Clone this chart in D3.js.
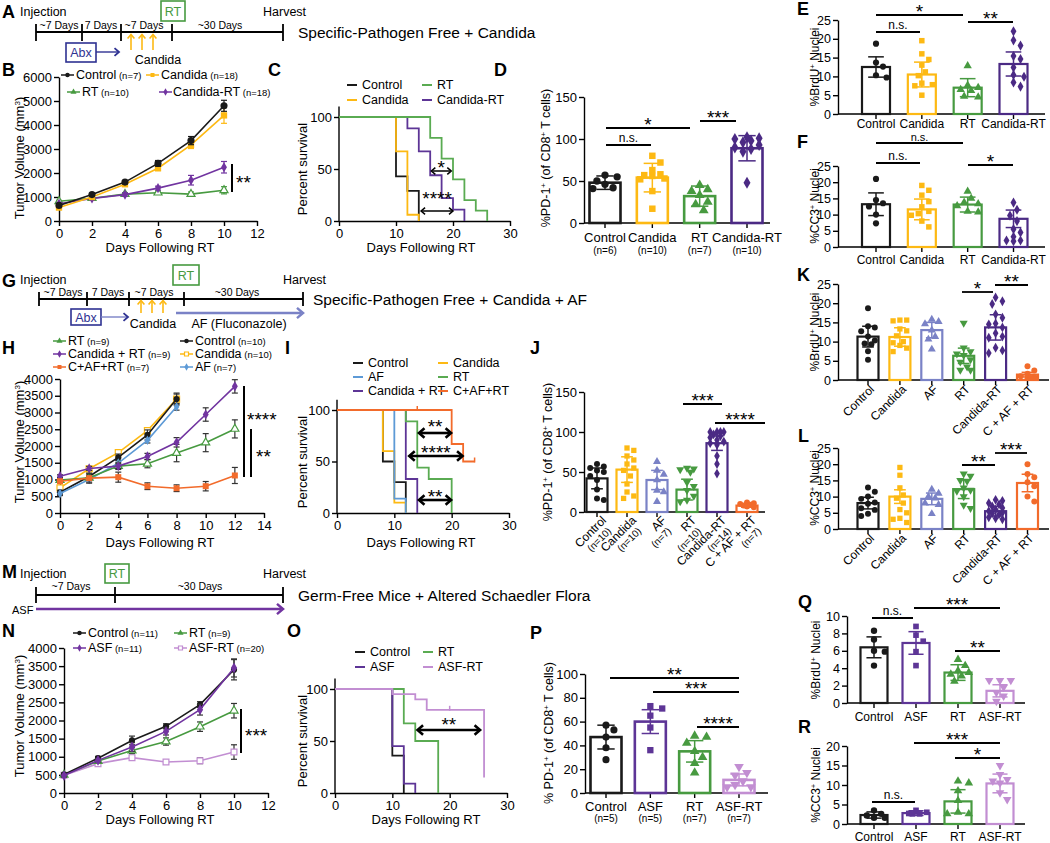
<!DOCTYPE html>
<html>
<head>
<meta charset="utf-8">
<script src="https://cdnjs.cloudflare.com/ajax/libs/d3/7.8.5/d3.min.js"></script>
<style>
html,body{margin:0;padding:0;background:#fff;}
svg text{font-family:"Liberation Sans",Arial,Helvetica,sans-serif;}
</style>
</head>
<body>
<svg id="fig" width="1050" height="843" xmlns="http://www.w3.org/2000/svg"></svg>
<script>
// ================= DATA =================
// Panel B - tumor growth
const daysB = [0, 2, 4, 6, 8, 10];
const bControl = [650, 1100, 1620, 2400, 3350, 4800];
const bControlErr = [40, 60, 70, 120, 170, 230];
const bCandida = [560, 1000, 1530, 2200, 3170, 4400];
const bCandidaErr = [40, 60, 70, 100, 150, 330];
const bRT = [820, 950, 1120, 1180, 1120, 1280];
const bRTErr = [40, 50, 60, 70, 90, 150];
const bCandidaRT = [720, 940, 1100, 1370, 1700, 2240];
const bCandidaRTErr = [40, 60, 70, 80, 200, 240];

// Panel C - survival
const cControlT = [0, 10, 12, 14], cControlS = [100, 43, 29, 0];
const cCandidaT = [0, 10, 12, 14], cCandidaS = [100, 67, 6, 0];
const cRTT = [0, 16, 18, 20, 22, 24, 26], cRTS = [100, 80, 60, 40, 20, 10, 0];
const cCandidaRTT = [0, 12, 14, 16, 18, 20, 22], cCandidaRTS = [100, 89, 67, 44, 22, 11, 0];

// Panel D - %PD-1+
const groupsD = ["Control", "Candida", "RT", "Candida-RT"];
const nD = ["(n=6)", "(n=10)", "(n=7)", "(n=10)"];
const meanD = [48, 54, 32, 89];
const sdD = [8, 17, 12, 15];
const ptsD_Control = [57, 55, 50, 46, 42, 41];
const ptsD_Candida = [80, 72, 63, 58, 57, 56, 53, 52, 38, 17];
const ptsD_RT = [45, 40, 38, 33, 25, 22, 15];
const ptsD_CandidaRT = [102, 101, 100, 98, 96, 93, 90, 88, 85, 48];

// Panel E - %BrdU+
const groupsE = ["Control", "Candida", "RT", "Candida-RT"];
const meanE = [12.5, 10.5, 7.0, 13.3];
const sdE = [2.7, 3.3, 2.4, 3.2];
const ptsE_Control = [18.7, 13.7, 12.6, 10.3, 9.7];
const ptsE_Candida = [19.5, 16.0, 14.5, 13.0, 11.2, 10.2, 8.2, 7.8, 7.5, 5.0];
const ptsE_RT = [12.8, 7.6, 7.0, 6.5, 6.2, 4.7, 4.5];
const ptsE_CandidaRT = [22.0, 19.6, 18.2, 15.4, 14.6, 12.4, 10.4, 9.9, 8.4, 7.3];

// Panel F - %CC3+
const meanF = [13.2, 11.6, 13.1, 8.7];
const sdF = [3.5, 3.2, 2.3, 2.7];
const ptsF_Control = [21.0, 14.5, 13.5, 12.5, 10.0, 7.3];
const ptsF_Candida = [19.0, 17.5, 16.0, 14.0, 12.4, 11.0, 10.3, 9.8, 8.0, 6.2];
const ptsF_RT = [17.2, 15.0, 13.8, 13.3, 12.7, 11.0, 10.8];
const ptsF_CandidaRT = [13.7, 11.5, 9.7, 8.0, 5.5, 4.5, 3.2, 2.0, 2.0, 1.8];

// Panel H - tumor growth with AF
const daysH_short = [0, 2, 4, 6, 8];
const daysH_long = [0, 2, 4, 6, 8, 10, 12];
const hRT = [980, 1050, 1400, 1470, 1790, 2100, 2510];
const hRTErr = [60, 80, 100, 120, 260, 270, 270];
const hCandidaRT = [1100, 1330, 1400, 1690, 2110, 2940, 3780];
const hCandidaRTErr = [40, 60, 70, 90, 140, 200, 200];
const hCAFRT = [950, 1040, 1070, 800, 740, 800, 1120];
const hCAFRTErr = [50, 150, 150, 100, 100, 140, 240];
const hControl = [620, 1090, 1660, 2330, 3400];
const hControlErr = [60, 80, 100, 150, 180];
const hCandida = [750, 1320, 1800, 2460, 3400];
const hCandidaErr = [60, 60, 80, 80, 150];
const hAF = [580, 1000, 1490, 2170, 3170];
const hAFErr = [60, 80, 80, 80, 100];

// Panel I - survival with AF
const iControlT = [0, 8, 10, 12], iControlS = [100, 50, 30, 0];
const iCandidaT = [0, 8, 10, 12], iCandidaS = [100, 60, 10, 0];
const iAFT = [0, 10, 12], iAFS = [100, 14, 0];
const iRTT = [0, 12, 14, 16, 20], iRTS = [100, 89, 44, 33, 0];
const iCandidaRTT = [0, 12, 14], iCandidaRTS = [100, 33, 0];
const iCAFRTT = [0, 20, 22, 24], iCAFRTS = [100, 67, 50, 50];

// Panel J - %PD-1+
const groupsJ = ["Control", "Candida", "AF", "RT", "Candida-RT", "C + AF + RT"];
const nJ = ["(n=10)", "(n=10)", "(n=7)", "(n=10)", "(n=14)", "(n=7)"];
const meanJ = [42, 53, 40, 28, 86, 8];
const sdJ = [13, 16, 12, 13, 9, 2];
const ptsJ_Control = [60, 57, 55, 52, 50, 45, 40, 28, 17, 15];
const ptsJ_Candida = [80, 77, 70, 65, 60, 55, 52, 45, 35, 25, 20, 17];
const ptsJ_AF = [63, 52, 47, 40, 27, 25, 13];
const ptsJ_RT = [55, 54, 53, 50, 37, 32, 27, 20, 15, 13];
const ptsJ_CandidaRT = [100, 100, 100, 100, 97, 95, 93, 90, 88, 86, 84, 70, 60, 48];
const ptsJ_CAFRT = [12, 11, 10, 9, 8, 7, 6];

// Panel K - %BrdU+
const meanK = [11.3, 11.2, 13.0, 6.3, 13.7, 1.4];
const sdK = [2.7, 2.4, 2.0, 2.0, 3.3, 0.6];
const ptsK_Control = [18.7, 14.0, 13.7, 12.7, 11.3, 10.3, 9.5, 9.3, 7.5, 5.3];
const ptsK_Candida = [15.6, 15.6, 15.4, 13.3, 12.8, 11.5, 10.0, 9.7, 9.0, 8.3, 7.4];
const ptsK_AF = [15.8, 15.2, 14.6, 13.0, 11.3, 10.6, 8.0];
const ptsK_RT = [14.8, 8.4, 7.4, 6.8, 6.4, 5.3, 4.7, 3.4, 2.6, 2.6];
const ptsK_CandidaRT = [21.5, 20.5, 19.8, 17.1, 16.2, 14.7, 14.5, 13.7, 12.2, 11.3, 11.0, 8.4, 7.7, 7.0];
const ptsK_CAFRT = [3.6, 2.5, 1.6, 1.0, 0.7, 0.5, 0.5];

// Panel L - %CC3+
const meanL = [8.0, 10.0, 9.3, 12.3, 5.5, 14.2];
const sdL = [1.8, 2.1, 1.8, 2.9, 1.5, 2.7];
const ptsL_Control = [12.8, 11.5, 10.0, 9.3, 8.2, 7.8, 6.4, 5.9, 4.7, 4.0];
const ptsL_Candida = [19.0, 16.6, 12.7, 10.5, 9.5, 8.0, 6.0, 5.0, 3.3, 3.0, 2.0];
const ptsL_AF = [12.2, 11.0, 10.0, 9.5, 8.0, 7.5, 4.7];
const ptsL_RT = [17.0, 16.3, 15.0, 14.8, 12.7, 12.0, 11.7, 10.0, 7.4, 6.4];
const ptsL_CandidaRT = [9.0, 8.7, 8.0, 7.6, 7.0, 6.5, 6.0, 5.5, 5.0, 4.8, 4.5, 3.6, 3.3, 3.0];
const ptsL_CAFRT = [20.0, 17.0, 16.0, 14.4, 13.2, 10.0, 8.5];

// Panel N - tumor growth germ-free
const daysN = [0, 2, 4, 6, 8, 10];
const nControl = [510, 960, 1450, 1840, 2440, 3400];
const nControlErr = [40, 50, 120, 70, 80, 280];
const nRT = [500, 880, 1170, 1420, 1830, 2270];
const nRTErr = [40, 60, 80, 100, 130, 200];
const nASF = [480, 900, 1270, 1700, 2300, 3450];
const nASFErr = [40, 50, 120, 100, 150, 250];
const nASFRT = [490, 810, 975, 855, 890, 1130];
const nASFRTErr = [40, 50, 50, 50, 80, 200];

// Panel O - survival germ-free
const oControlT = [0, 10, 12], oControlS = [100, 36, 0];
const oASFT = [0, 10, 12, 14], oASFS = [100, 45, 9, 0];
const oRTT = [0, 12, 14, 18], oRTS = [100, 67, 50, 0];
const oASFRTT = [0, 10, 14, 16, 26], oASFRTS = [100, 95, 90, 80, 15];

// Panel P - %PD-1+
const groupsP = ["Control", "ASF", "RT", "ASF-RT"];
const nP = ["(n=5)", "(n=5)", "(n=7)", "(n=7)"];
const meanP = [47, 60, 35, 11];
const sdP = [10, 10, 9, 5];
const ptsP_Control = [57, 53, 47, 38, 28];
const ptsP_ASF = [73, 71, 65, 55, 36];
const ptsP_RT = [48, 47, 42, 35, 30, 25, 17];
const ptsP_ASFRT = [22, 17, 15, 10, 7, 5, 5];

// Panel Q - %BrdU+
const meanQ = [6.4, 6.9, 3.5, 1.4];
const sdQ = [1.2, 1.3, 0.9, 0.7];
const ptsQ_Control = [8.3, 7.3, 6.0, 5.9, 4.3];
const ptsQ_ASF = [8.8, 7.8, 7.1, 5.9, 4.3];
const ptsQ_RT = [5.0, 4.3, 3.7, 3.5, 3.3, 3.1, 2.5];
const ptsQ_ASFRT = [2.6, 2.6, 2.6, 1.8, 1.2, 0.8, 0.2];

// Panel R - %CC3+
const meanR = [2.3, 2.8, 5.8, 10.4];
const sdR = [0.8, 0.6, 3.0, 2.4];
const ptsR_Control = [3.5, 2.6, 2.2, 1.6, 1.6];
const ptsR_ASF = [3.5, 3.0, 2.7, 2.6, 2.6];
const ptsR_RT = [11.0, 10.5, 8.5, 6.0, 3.0, 2.6, 2.6];
const ptsR_ASFRT = [15.0, 12.7, 11.4, 11.0, 10.5, 8.0, 6.3];

// ================= STYLE =================
const COL = {
  black: "#1a1a1a", yellow: "#fdb913", green: "#479a40", greenS: "#5aab52",
  purpleDark: "#4b2a84", purple: "#7134a0", purpleS: "#5d3596",
  af: "#7a82c6", afLine: "#5d9ad6", orange: "#f26b2b", lilac: "#c28ed2", blue: "#2e3192"
};
const svg = d3.select("#fig");
const SHAPES = { circle: d3.symbolCircle, square: d3.symbolSquare, triangle: d3.symbolTriangle, diamond: d3.symbolDiamond, star: d3.symbolStar };
const fmtInt = d3.format("d");

function txt(g, x, y, s, o = {}) {
  const t = g.append("text").attr("x", x).attr("y", y).text(s)
    .attr("font-size", o.fs || 13).attr("fill", o.fill || "#000")
    .attr("text-anchor", o.anchor || "start");
  if (o.bold) t.attr("font-weight", "bold");
  return t;
}
function rich(g, x, y, parts, o = {}) {
  const t = g.append("text").attr("x", x).attr("y", y).attr("font-size", o.fs || 13)
    .attr("text-anchor", o.anchor || "middle").attr("fill", o.fill || "#000");
  if (o.rotate) t.attr("transform", `rotate(${o.rotate},${x},${y})`);
  parts.forEach(p => {
    const ts = t.append("tspan").text(p[0]);
    if (p[1] === "sup") ts.attr("baseline-shift", "super").attr("font-size", (o.fs || 13) * 0.62);
    if (p[1] === "small") ts.attr("font-size", o.fsSmall || 9.5);
  });
  return t;
}
function marker(g, x, y, shape, size, color, open, rot) {
  g.append("path").attr("d", d3.symbol().type(SHAPES[shape]).size(size)())
    .attr("transform", `translate(${x},${y})` + (rot ? ` rotate(${rot})` : ""))
    .attr("fill", open ? "#fff" : color).attr("stroke", color).attr("stroke-width", open ? 1.2 : 0);
}
function styleAxis(a, fs) {
  a.attr("font-size", fs).attr("font-family", null);
  a.select(".domain").attr("stroke", "#000").attr("stroke-width", 1.4);
  a.selectAll(".tick line").attr("stroke", "#000").attr("stroke-width", 1.4);
  a.selectAll(".tick text").attr("fill", "#000");
}
function chevron(g, x, y, ang, color, size, sw) {
  g.append("path").attr("d", `M${-size},${-size * 0.85} L0,0 L${-size},${size * 0.85}`)
    .attr("transform", `translate(${x},${y}) rotate(${ang})`)
    .attr("fill", "none").attr("stroke", color).attr("stroke-width", sw);
}
function hline(g, x1, x2, y, color, sw) {
  g.append("line").attr("x1", x1).attr("x2", x2).attr("y1", y).attr("y2", y).attr("stroke", color).attr("stroke-width", sw);
}
function vline(g, x, y1, y2, color, sw) {
  g.append("line").attr("x1", x).attr("x2", x).attr("y1", y1).attr("y2", y2).attr("stroke", color).attr("stroke-width", sw);
}
const STAR_FS = 19;
function stars(g, cx, cy, s, anchor) {
  txt(g, cx, cy + 0.55 * STAR_FS, s, { fs: STAR_FS, anchor: anchor || "middle" });
}
function sigBar(g, x1, x2, y, label, nsY, nsFs) {
  hline(g, x1, x2, y, "#000", 1.8);
  if (label === "n.s.") txt(g, (x1 + x2) / 2, nsY || (y - 3), "n.s.", { fs: nsFs || 12, anchor: "middle" });
  else stars(g, (x1 + x2) / 2, y - 7, label);
}
function panelLetter(x, y, s) { txt(svg, x, y, s, { fs: 18, bold: true }); }

// ================= TIMELINES =================
function rtBox(g, x, y, w, h) {
  g.append("rect").attr("x", x).attr("y", y).attr("width", w).attr("height", h)
    .attr("fill", "none").attr("stroke", COL.green).attr("stroke-width", 1.6);
  txt(g, x + w / 2, y + h - 5, "RT", { fs: 12.5, anchor: "middle", fill: COL.green });
}
function timelineA() {
  const g = svg.append("g");
  panelLetter(2, 18, "A");
  txt(g, 20, 16, "Injection", { fs: 12.5 });
  rtBox(g, 161, 1, 24, 20);
  txt(g, 263, 16, "Harvest", { fs: 12.5 });
  hline(g, 36, 283, 32, "#000", 1.8);
  [36, 82, 121, 172, 283].forEach(x => vline(g, x, 24, 41, "#000", 1.8));
  [[59, "~7 Days"], [101, "7 Days"], [144, "~7 Days"], [220, "~30 Days"]].forEach(d => txt(g, d[0], 29, d[1], { fs: 10.5, anchor: "middle" }));
  g.append("rect").attr("x", 66).attr("y", 43).attr("width", 30).attr("height", 19).attr("fill", "none").attr("stroke", COL.blue).attr("stroke-width", 1.6);
  txt(g, 81, 57, "Abx", { fs: 12.5, anchor: "middle", fill: COL.blue });
  hline(g, 96, 118, 52, COL.blue, 1.4); chevron(g, 119, 52, 0, COL.blue, 4.5, 1.8);
  [131, 142, 153].forEach(x => { vline(g, x, 50, 35, COL.yellow, 1.6); chevron(g, x, 34.5, -90, COL.yellow, 4, 1.6); });
  txt(g, 158, 64, "Candida", { fs: 12.5, anchor: "middle" });
  txt(g, 298, 38, "Specific-Pathogen Free + Candida", { fs: 15.5 });
}
function timelineG() {
  const g = svg.append("g");
  panelLetter(2, 287, "G");
  txt(g, 20, 284, "Injection", { fs: 12.5 });
  rtBox(g, 173, 265, 26, 20);
  txt(g, 283, 284, "Harvest", { fs: 12.5 });
  hline(g, 39, 303, 299, "#000", 1.8);
  [39, 87, 129, 184, 303].forEach(x => vline(g, x, 292, 306, "#000", 1.8));
  [[63, "~7 Days"], [108, "7 Days"], [154, "~7 Days"], [237, "~30 Days"]].forEach(d => txt(g, d[0], 296, d[1], { fs: 10.5, anchor: "middle" }));
  g.append("rect").attr("x", 71).attr("y", 309).attr("width", 30).attr("height", 16).attr("fill", "none").attr("stroke", COL.blue).attr("stroke-width", 1.6);
  txt(g, 86, 322, "Abx", { fs: 12.5, anchor: "middle", fill: COL.blue });
  hline(g, 101, 127, 317, COL.af, 1.4); chevron(g, 128, 317, 0, COL.blue, 4.5, 1.8);
  [141, 152, 163].forEach(x => { vline(g, x, 313, 301, COL.yellow, 1.6); chevron(g, x, 300.5, -90, COL.yellow, 4, 1.6); });
  txt(g, 153, 328, "Candida", { fs: 12.5, anchor: "middle" });
  hline(g, 176, 301, 313, COL.af, 2.5); chevron(g, 303, 313, 0, COL.af, 6, 2.5);
  txt(g, 239, 328, "AF (Fluconazole)", { fs: 12.5, anchor: "middle" });
  txt(g, 313, 305, "Specific-Pathogen Free + Candida + AF", { fs: 15.5 });
}
function timelineM() {
  const g = svg.append("g");
  panelLetter(2, 578, "M");
  txt(g, 20, 578, "Injection", { fs: 12.5 });
  rtBox(g, 105, 564, 24, 19);
  txt(g, 263, 578, "Harvest", { fs: 12.5 });
  hline(g, 36, 283, 595, "#000", 1.8);
  [36, 115, 283].forEach(x => vline(g, x, 587, 603, "#000", 1.8));
  txt(g, 71, 590, "~7 Days", { fs: 10.5, anchor: "middle" });
  txt(g, 200, 590, "~30 Days", { fs: 10.5, anchor: "middle" });
  txt(g, 12, 614, "ASF", { fs: 11 });
  hline(g, 36, 281, 609, COL.purple, 2.5); chevron(g, 283, 609, 0, COL.purple, 6, 2.5);
  txt(g, 298, 601, "Germ-Free Mice + Altered Schaedler Flora", { fs: 15.5 });
}

// ================= GROWTH CHARTS =================
function growthChart(o) {
  const g = svg.append("g");
  const x = d3.scaleLinear().domain([0, o.xMax]).range([o.x0, o.x1]);
  const y = d3.scaleLinear().domain([0, o.yMax]).range([o.y0, o.y1]);
  const ax = g.append("g").attr("transform", `translate(0,${o.y0})`)
    .call(d3.axisBottom(x).tickValues(o.xTicks).tickFormat(fmtInt).tickSize(5).tickSizeOuter(0).tickPadding(3));
  const ay = g.append("g").attr("transform", `translate(${o.x0},0)`)
    .call(d3.axisLeft(y).tickValues(o.yTicks).tickFormat(fmtInt).tickSize(5).tickSizeOuter(0).tickPadding(2));
  styleAxis(ax, 13); styleAxis(ay, 13);
  o.series.forEach(s => {
    const pts = s.x.map((d, i) => ({ x: d, y: s.y[i], e: s.e[i] }));
    const ec = o.errColor || s.color;
    pts.forEach(p => {
      const cx = x(p.x);
      vline(g, cx, y(p.y - p.e), y(p.y + p.e), ec, 1.2);
      hline(g, cx - 3, cx + 3, y(p.y - p.e), ec, 1.2);
      hline(g, cx - 3, cx + 3, y(p.y + p.e), ec, 1.2);
    });
    g.append("path").datum(pts).attr("fill", "none").attr("stroke", s.color).attr("stroke-width", 1.6)
      .attr("d", d3.line().x(d => x(d.x)).y(d => y(d.y)));
    pts.forEach(p => marker(g, x(p.x), y(p.y), s.shape, s.size || 30, s.color, s.open, s.rot));
  });
  o.legend.forEach(l => {
    hline(g, l.sx, l.sx + 13, l.y - 4, l.color, 1.5);
    marker(g, l.sx + 6.5, l.y - 4, l.shape, 16, l.color, l.open, l.rot);
    rich(g, l.tx, l.y, [[l.label], [" " + l.n, "small"]], { fs: 12.5, anchor: "start" });
  });
  txt(g, o.xtX, o.xtY, "Days Following RT", { fs: 13, anchor: "middle" });
  rich(g, o.ytX, o.ytY, [["Tumor Volume (mm"], ["3", "sup"], [")"]], { fs: 13, rotate: -90 });
  return { g, x, y };
}

// ================= SURVIVAL CHARTS =================
function survChart(o) {
  const g = svg.append("g");
  const x = d3.scaleLinear().domain([0, 30]).range([o.x0, o.x1]);
  const y = d3.scaleLinear().domain([0, 100]).range([o.y0, o.y100]);
  const yTop = y(110);
  const ax = g.append("g").attr("transform", `translate(0,${o.y0})`)
    .call(d3.axisBottom(x).tickValues([0, 10, 20, 30]).tickSize(5).tickSizeOuter(0).tickPadding(3));
  const ay = g.append("g").attr("transform", `translate(${o.x0},0)`)
    .call(d3.axisLeft(y).tickValues([0, 50, 100]).tickSize(5).tickSizeOuter(0).tickPadding(2));
  styleAxis(ax, 13); styleAxis(ay, 13);
  ay.select(".domain").attr("d", `M0,${o.y0}V${yTop}`);
  o.series.forEach(s => {
    const pts = s.t.map((t, i) => [x(t), y(s.s[i])]);
    g.append("path").attr("d", d3.line().curve(d3.curveStepAfter)(pts))
      .attr("fill", "none").attr("stroke", s.color).attr("stroke-width", 1.8);
    (s.censor || []).forEach(c => vline(g, x(c[0]), y(c[1]) - 4, y(c[1]) + 1, s.color, 1.5));
  });
  o.arrows.forEach(a => {
    hline(g, x(a.t1) + 1, x(a.t2) - 1, a.y, "#000", a.sw);
    chevron(g, x(a.t2), a.y, 0, "#000", a.hs, a.sw);
    chevron(g, x(a.t1), a.y, 180, "#000", a.hs, a.sw);
    stars(g, (x(a.t1) + x(a.t2)) / 2, a.ty, a.label);
  });
  o.legend.forEach(l => {
    hline(g, l.sx, l.sx + 10, l.y - 4, l.color, 2);
    txt(g, l.sx + 15, l.y, l.label, { fs: 12.5 });
  });
  txt(g, o.xtX, o.xtY, "Days Following RT", { fs: 13, anchor: "middle" });
  txt(g, o.ytX, o.ytY, "Percent survival", { fs: 13, anchor: "middle" }).attr("transform", `rotate(-90,${o.ytX},${o.ytY})`);
  return { g, x, y };
}

// ================= BAR CHARTS =================
function swarm(vals, y, r, maxOff) {
  const placed = [];
  vals.slice().sort((a, b) => b - a).forEach(v => {
    const py = y(v);
    let best = 0, bestD = -1;
    for (let k = 0; k < 30; k++) {
      const off = k === 0 ? 0 : (k % 2 ? 1 : -1) * Math.ceil(k / 2) * r * 0.95;
      if (Math.abs(off) > maxOff) break;
      const dmin = placed.length ? d3.min(placed, q => Math.hypot(q.x - off, q.y - py)) : 99;
      if (dmin >= 2 * r) { best = off; bestD = 99; break; }
      if (dmin > bestD) { bestD = dmin; best = off; }
    }
    placed.push({ x: best, y: py });
  });
  return placed;
}
function barChart(o) {
  const g = svg.append("g");
  const x = d3.scalePoint().domain(o.groups).range([o.c0, o.c1]);
  const y = d3.scaleLinear().domain([0, o.yMax]).range([o.y0, o.y1]);
  const ay = g.append("g").attr("transform", `translate(${o.x0},0)`)
    .call(d3.axisLeft(y).tickValues(o.yTicks).tickFormat(fmtInt).tickSize(5).tickSizeOuter(0).tickPadding(2));
  styleAxis(ay, o.fs || 12.5);
  hline(g, o.x0, o.xEnd, o.y0, "#000", 1.4);
  o.groups.forEach((gr, i) => {
    const cx = x(gr), col = o.colors[i], bw = o.bw, m = o.means[i], sd = o.sds[i];
    vline(g, cx, o.y0, o.y0 + 5, "#000", 1.4);
    g.append("rect").attr("x", cx - bw / 2).attr("y", y(m)).attr("width", bw).attr("height", o.y0 - y(m))
      .attr("fill", "#fff").attr("stroke", col).attr("stroke-width", o.sw || 2.2);
    const cap = bw * 0.28;
    vline(g, cx, y(m - sd), y(m + sd), col, 1.5);
    hline(g, cx - cap, cx + cap, y(m - sd), col, 1.5);
    hline(g, cx - cap, cx + cap, y(m + sd), col, 1.5);
    const r = Math.sqrt(o.msize / Math.PI) + 0.6;
    swarm(o.points[i], y, r, bw / 2 - 1).forEach(p =>
      marker(g, cx + p.x, p.y, o.shapes[i], o.msize, col, false, o.rots ? o.rots[i] : 0));
  });
  (o.sig || []).forEach(s => sigBar(g, s[0], s[1], s[2], s[3], s[4], s[5]));
  return { g, x, y };
}
function flatLabels(g, x, labels, y, fs, ns, yn) {
  labels.forEach((l, i) => {
    const cx = x(x.domain()[i]);
    txt(g, cx, y, l, { fs: fs, anchor: "middle" });
    if (ns) txt(g, cx, yn, ns[i], { fs: 10, anchor: "middle" });
  });
}
function rotLabels(g, x, labels, ns, y0, dx, dy, fs) {
  labels.forEach((l, i) => {
    const cx = x(x.domain()[i]);
    g.append("text").attr("transform", `translate(${cx + dx},${y0 + dy}) rotate(-45)`)
      .attr("text-anchor", "end").attr("font-size", fs).text(l);
    if (ns) g.append("text").attr("transform", `translate(${cx + dx},${y0 + dy}) rotate(-45)`)
      .attr("text-anchor", "end").attr("font-size", 10).attr("x", -4).attr("y", 11).text(ns[i]);
  });
}
function yTitle(g, x, y, parts, fs) { rich(g, x, y, parts, { fs: fs, rotate: -90 }); }

// ================= DRAW =================
timelineA(); timelineG(); timelineM();

// ---- B
panelLetter(2, 76, "B");
(function () {
  const c = growthChart({
    x0: 59, x1: 257, y0: 221, y1: 77, xMax: 12, yMax: 6000,
    xTicks: d3.range(0, 13, 2), yTicks: d3.range(0, 6001, 1000),
    series: [
      { x: daysB, y: bRT, e: bRTErr, color: COL.green, shape: "triangle", open: true, size: 28 },
      { x: daysB, y: bCandidaRT, e: bCandidaRTErr, color: COL.purple, shape: "diamond", size: 30 },
      { x: daysB, y: bCandida, e: bCandidaErr, color: COL.yellow, shape: "square", size: 40 },
      { x: daysB, y: bControl, e: bControlErr, color: COL.black, shape: "circle", size: 40 }
    ],
    legend: [
      { sx: 61, tx: 76, y: 79, label: "Control", n: "(n=7)", color: COL.black, shape: "circle" },
      { sx: 146, tx: 161, y: 79, label: "Candida", n: "(n=18)", color: COL.yellow, shape: "square" },
      { sx: 67, tx: 82, y: 96, label: "RT", n: "(n=10)", color: COL.green, shape: "triangle" },
      { sx: 159, tx: 173, y: 96, label: "Candida-RT", n: "(n=18)", color: COL.purple, shape: "diamond" }
    ],
    xtX: 160, xtY: 252, ytX: 24, ytY: 158
  });
  vline(c.g, 232, 164, 192, "#000", 2);
  stars(c.g, 236, 179, "**", "start");
})();

// ---- C
panelLetter(268, 76, "C");
survChart({
  x0: 339, x1: 510, y0: 221, y100: 117,
  series: [
    { t: cControlT, s: cControlS, color: COL.black },
    { t: cCandidaT, s: cCandidaS, color: COL.yellow },
    { t: cCandidaRTT, s: cCandidaRTS, color: COL.purpleS },
    { t: cRTT, s: cRTS, color: COL.greenS }
  ],
  arrows: [
    { t1: 16.2, t2: 19.7, y: 171, ty: 164, label: "*", sw: 1.5, hs: 4 },
    { t1: 14.4, t2: 20.0, y: 211, ty: 195, label: "****", sw: 1.5, hs: 4 }
  ],
  legend: [
    { sx: 347, y: 89, label: "Control", color: COL.black },
    { sx: 422, y: 89, label: "RT", color: COL.greenS },
    { sx: 347, y: 104, label: "Candida", color: COL.yellow },
    { sx: 422, y: 104, label: "Candida-RT", color: COL.purpleS }
  ],
  xtX: 421, xtY: 252, ytX: 307, ytY: 169
});

// ---- D
panelLetter(494, 76, "D");
(function () {
  const c = barChart({
    groups: groupsD, x0: 584, xEnd: 770, c0: 605, c1: 747, bw: 31, sw: 2.6,
    y0: 223, y1: 97, yMax: 150, yTicks: [0, 50, 100, 150], fs: 13,
    means: meanD, sds: sdD, colors: [COL.black, COL.yellow, COL.green, COL.purpleDark],
    shapes: ["circle", "square", "triangle", "diamond"], msize: 42,
    points: [ptsD_Control, ptsD_Candida, ptsD_RT, ptsD_CandidaRT],
    sig: [[606, 651, 145, "n.s."], [606, 690, 128, "*"], [700, 736, 121, "***"]]
  });
  flatLabels(c.g, c.x, groupsD, 242, 13, nD, 254);
  yTitle(c.g, 550, 158, [["%PD-1"], ["+", "sup"], [" (of CD8"], ["+", "sup"], [" T cells)"]], 12.5);
})();

// ---- E
panelLetter(797, 15, "E");
(function () {
  const c = barChart({
    groups: groupsE, x0: 838, xEnd: 1045, c0: 876, c1: 1013.5, bw: 28,
    y0: 114, y1: 20, yMax: 25, yTicks: [0, 5, 10, 15, 20, 25],
    means: meanE, sds: sdE, colors: [COL.black, COL.yellow, COL.green, COL.purpleDark],
    shapes: ["circle", "square", "triangle", "diamond"], msize: 30,
    points: [ptsE_Control, ptsE_Candida, ptsE_RT, ptsE_CandidaRT],
    sig: [[876, 920, 32, "n.s."], [876, 963, 15, "*"], [968, 1013, 22, "**"]]
  });
  flatLabels(c.g, c.x, groupsE, 128, 12);
  yTitle(c.g, 819, 67, [["%BrdU"], ["+", "sup"], [" Nuclei"]], 12);
})();

// ---- F
panelLetter(797, 148, "F");
(function () {
  const c = barChart({
    groups: groupsE, x0: 838, xEnd: 1045, c0: 876, c1: 1013.5, bw: 28,
    y0: 247, y1: 166, yMax: 25, yTicks: [0, 5, 10, 15, 20, 25],
    means: meanF, sds: sdF, colors: [COL.black, COL.yellow, COL.green, COL.purpleDark],
    shapes: ["circle", "square", "triangle", "diamond"], msize: 30,
    points: [ptsF_Control, ptsF_Candida, ptsF_RT, ptsF_CandidaRT],
    sig: [[876, 963, 143, "n.s.", 141, 11], [876, 920, 163, "n.s."], [968, 1013, 165, "*"]]
  });
  flatLabels(c.g, c.x, groupsE, 264, 12);
  yTitle(c.g, 819, 206, [["%CC3"], ["+", "sup"], [" Nuclei"]], 12);
})();

// ---- H
panelLetter(2, 354, "H");
(function () {
  const c = growthChart({
    x0: 60, x1: 264, y0: 513, y1: 379, xMax: 14, yMax: 4000,
    xTicks: d3.range(0, 15, 2), yTicks: d3.range(0, 4001, 500), errColor: "#333",
    series: [
      { x: daysH_short, y: hCandida, e: hCandidaErr, color: COL.yellow, shape: "square", open: true, size: 36 },
      { x: daysH_short, y: hControl, e: hControlErr, color: COL.black, shape: "circle", size: 30 },
      { x: daysH_short, y: hAF, e: hAFErr, color: COL.afLine, shape: "diamond", size: 26 },
      { x: daysH_long, y: hRT, e: hRTErr, color: COL.green, shape: "triangle", open: true, size: 28 },
      { x: daysH_long, y: hCandidaRT, e: hCandidaRTErr, color: COL.purple, shape: "diamond", size: 30 },
      { x: daysH_long, y: hCAFRT, e: hCAFRTErr, color: COL.orange, shape: "square", size: 36 }
    ],
    legend: [
      { sx: 53, tx: 68, y: 345, label: "RT", n: "(n=9)", color: COL.green, shape: "triangle" },
      { sx: 53, tx: 68, y: 358, label: "Candida + RT", n: "(n=9)", color: COL.purple, shape: "diamond" },
      { sx: 53, tx: 68, y: 371, label: "C+AF+RT", n: "(n=7)", color: COL.orange, shape: "square" },
      { sx: 180, tx: 195, y: 345, label: "Control", n: "(n=10)", color: COL.black, shape: "circle" },
      { sx: 180, tx: 195, y: 358, label: "Candida", n: "(n=10)", color: COL.yellow, shape: "square", open: true },
      { sx: 180, tx: 195, y: 371, label: "AF", n: "(n=7)", color: COL.afLine, shape: "diamond" }
    ],
    xtX: 160, xtY: 547, ytX: 24, ytY: 442
  });
  vline(c.g, 244, 386, 477, "#000", 2);
  vline(c.g, 251, 429, 477, "#000", 2);
  stars(c.g, 247, 416, "****", "start");
  stars(c.g, 256, 453, "**", "start");
})();

// ---- I
panelLetter(285, 354, "I");
survChart({
  x0: 337, x1: 509, y0: 513, y100: 410,
  series: [
    { t: iControlT, s: iControlS, color: COL.black },
    { t: iCandidaT, s: iCandidaS, color: COL.yellow },
    { t: iAFT, s: iAFS, color: COL.afLine },
    { t: iCandidaRTT, s: iCandidaRTS, color: COL.purpleS },
    { t: iRTT, s: iRTS, color: COL.greenS },
    { t: iCAFRTT, s: iCAFRTS, color: COL.orange, censor: [[14, 100], [24, 50]] }
  ],
  arrows: [
    { t1: 14.3, t2: 19.9, y: 433, ty: 423, label: "**", sw: 2.6, hs: 5.5 },
    { t1: 12.6, t2: 21.9, y: 456, ty: 449, label: "****", sw: 2.6, hs: 5.5 },
    { t1: 14.3, t2: 19.9, y: 500, ty: 493, label: "**", sw: 2.6, hs: 5.5 }
  ],
  legend: [
    { sx: 353, y: 367, label: "Control", color: COL.black },
    { sx: 353, y: 381, label: "AF", color: COL.afLine },
    { sx: 353, y: 395, label: "Candida + RT", color: COL.purpleS },
    { sx: 438, y: 367, label: "Candida", color: COL.yellow },
    { sx: 438, y: 381, label: "RT", color: COL.greenS },
    { sx: 438, y: 395, label: "C+AF+RT", color: COL.orange }
  ],
  xtX: 421, xtY: 547, ytX: 307, ytY: 462
});

// ---- J
panelLetter(530, 354, "J");
(function () {
  const c = barChart({
    groups: groupsJ, x0: 584, xEnd: 765, c0: 597, c1: 747, bw: 21,
    y0: 512, y1: 392, yMax: 150, yTicks: [0, 50, 100, 150], fs: 13,
    means: meanJ, sds: sdJ, colors: [COL.black, COL.yellow, COL.af, COL.green, COL.purpleDark, COL.orange],
    shapes: ["circle", "square", "triangle", "triangle", "diamond", "circle"], rots: [0, 0, 0, 180, 0, 0], msize: 28,
    points: [ptsJ_Control, ptsJ_Candida, ptsJ_AF, ptsJ_RT, ptsJ_CandidaRT, ptsJ_CAFRT],
    sig: [[683, 722, 404, "***"], [715, 765, 423, "****"]]
  });
  rotLabels(c.g, c.x, groupsJ, nJ, 512, 10, 9, 12);
  yTitle(c.g, 552, 452, [["%PD-1"], ["+", "sup"], [" (of CD8"], ["+", "sup"], [" T cells)"]], 12.5);
})();

// ---- K
panelLetter(797, 281, "K");
(function () {
  const c = barChart({
    groups: groupsJ, x0: 838, xEnd: 1049, c0: 868, c1: 1027.5, bw: 21,
    y0: 380, y1: 284, yMax: 25, yTicks: [0, 5, 10, 15, 20, 25],
    means: meanK, sds: sdK, colors: [COL.black, COL.yellow, COL.af, COL.green, COL.purpleDark, COL.orange],
    shapes: ["circle", "square", "triangle", "triangle", "diamond", "circle"], rots: [0, 0, 0, 180, 0, 0], msize: 28,
    points: [ptsK_Control, ptsK_Candida, ptsK_AF, ptsK_RT, ptsK_CandidaRT, ptsK_CAFRT],
    sig: [[962, 993, 292, "*"], [995, 1028, 285, "**"]]
  });
  rotLabels(c.g, c.x, groupsJ, null, 380, 7, 10, 12);
  yTitle(c.g, 819, 332, [["%BrdU"], ["+", "sup"], [" Nuclei"]], 12);
})();

// ---- L
panelLetter(798, 442, "L");
(function () {
  const c = barChart({
    groups: groupsJ, x0: 838, xEnd: 1049, c0: 868, c1: 1027.5, bw: 21,
    y0: 529, y1: 448, yMax: 25, yTicks: [0, 5, 10, 15, 20, 25],
    means: meanL, sds: sdL, colors: [COL.black, COL.yellow, COL.af, COL.green, COL.purpleDark, COL.orange],
    shapes: ["circle", "square", "triangle", "triangle", "diamond", "circle"], rots: [0, 0, 0, 180, 0, 0], msize: 28,
    points: [ptsL_Control, ptsL_Candida, ptsL_AF, ptsL_RT, ptsL_CandidaRT, ptsL_CAFRT],
    sig: [[962, 995, 465, "**"], [995, 1027, 453, "***"]]
  });
  rotLabels(c.g, c.x, groupsJ, null, 529, 7, 10, 12);
  yTitle(c.g, 819, 488, [["%CC3"], ["+", "sup"], [" Nuclei"]], 12);
})();

// ---- N
panelLetter(2, 637, "N");
(function () {
  const c = growthChart({
    x0: 64, x1: 268, y0: 793, y1: 648, xMax: 12, yMax: 4000,
    xTicks: d3.range(0, 13, 2), yTicks: d3.range(0, 4001, 500), errColor: "#333",
    series: [
      { x: daysN, y: nASFRT, e: nASFRTErr, color: COL.lilac, shape: "square", open: true, size: 34 },
      { x: daysN, y: nRT, e: nRTErr, color: COL.green, shape: "triangle", open: true, size: 28 },
      { x: daysN, y: nControl, e: nControlErr, color: COL.black, shape: "circle", size: 30 },
      { x: daysN, y: nASF, e: nASFErr, color: COL.purple, shape: "diamond", size: 34 }
    ],
    legend: [
      { sx: 73, tx: 88, y: 637, label: "Control", n: "(n=11)", color: COL.black, shape: "circle" },
      { sx: 174, tx: 189, y: 637, label: "RT", n: "(n=9)", color: COL.green, shape: "triangle" },
      { sx: 73, tx: 88, y: 652, label: "ASF", n: "(n=11)", color: COL.purple, shape: "diamond" },
      { sx: 174, tx: 189, y: 652, label: "ASF-RT", n: "(n=20)", color: COL.lilac, shape: "square", open: true }
    ],
    xtX: 160, xtY: 824, ytX: 24, ytY: 716
  });
  vline(c.g, 241, 709, 753, "#000", 2);
  stars(c.g, 245, 732, "***", "start");
})();

// ---- O
panelLetter(287, 637, "O");
survChart({
  x0: 335, x1: 507, y0: 793, y100: 689,
  series: [
    { t: oControlT, s: oControlS, color: COL.black },
    { t: oASFT, s: oASFS, color: COL.purpleS },
    { t: oRTT, s: oRTS, color: COL.greenS },
    { t: oASFRTT, s: oASFRTS, color: COL.lilac, censor: [[20, 80]] }
  ],
  arrows: [{ t1: 14.4, t2: 25.3, y: 730, ty: 721, label: "**", sw: 2.6, hs: 5.5 }],
  legend: [
    { sx: 355, y: 656, label: "Control", color: COL.black },
    { sx: 423, y: 656, label: "RT", color: COL.greenS },
    { sx: 355, y: 671, label: "ASF", color: COL.purpleS },
    { sx: 423, y: 671, label: "ASF-RT", color: COL.lilac }
  ],
  xtX: 426, xtY: 824, ytX: 307, ytY: 741
});

// ---- P
panelLetter(530, 639, "P");
(function () {
  const c = barChart({
    groups: groupsP, x0: 585, xEnd: 768, c0: 606, c1: 739, bw: 31, sw: 2.6,
    y0: 793, y1: 674, yMax: 100, yTicks: [0, 20, 40, 60, 80, 100], fs: 13,
    means: meanP, sds: sdP, colors: [COL.black, COL.purpleS, COL.green, COL.lilac],
    shapes: ["circle", "square", "triangle", "triangle"], rots: [0, 0, 0, 180], msize: 40,
    points: [ptsP_Control, ptsP_ASF, ptsP_RT, ptsP_ASFRT],
    sig: [[610, 739, 678, "**"], [653, 739, 692, "***"], [697, 739, 727, "****"]]
  });
  flatLabels(c.g, c.x, groupsP, 811, 13, nP, 822);
  yTitle(c.g, 553, 733, [["% PD-1"], ["+", "sup"], [" (of CD8"], ["+", "sup"], [" T cells)"]], 12.5);
})();

// ---- Q
panelLetter(798, 608, "Q");
(function () {
  const c = barChart({
    groups: groupsP, x0: 847, xEnd: 1025, c0: 874, c1: 1000, bw: 27,
    y0: 703, y1: 616, yMax: 10, yTicks: [0, 2, 4, 6, 8, 10],
    means: meanQ, sds: sdQ, colors: [COL.black, COL.purpleS, COL.green, COL.lilac],
    shapes: ["circle", "square", "triangle", "triangle"], rots: [0, 0, 0, 180], msize: 32,
    points: [ptsQ_Control, ptsQ_ASF, ptsQ_RT, ptsQ_ASFRT],
    sig: [[872, 913, 618, "n.s."], [914, 1000, 608, "***"], [955, 1000, 651, "**"]]
  });
  flatLabels(c.g, c.x, groupsP, 721, 12);
  yTitle(c.g, 820, 660, [["%BrdU"], ["+", "sup"], [" Nuclei"]], 12);
})();

// ---- R
panelLetter(798, 733, "R");
(function () {
  const c = barChart({
    groups: groupsP, x0: 847, xEnd: 1025, c0: 874, c1: 1000, bw: 27,
    y0: 824, y1: 746, yMax: 20, yTicks: [0, 5, 10, 15, 20],
    means: meanR, sds: sdR, colors: [COL.black, COL.purpleS, COL.green, COL.lilac],
    shapes: ["circle", "square", "triangle", "triangle"], rots: [0, 0, 0, 180], msize: 32,
    points: [ptsR_Control, ptsR_ASF, ptsR_RT, ptsR_ASFRT],
    sig: [[914, 1000, 743, "***"], [955, 1000, 758, "*"], [872, 915, 802, "n.s."]]
  });
  flatLabels(c.g, c.x, groupsP, 841, 12);
  yTitle(c.g, 820, 785, [["%CC3"], ["+", "sup"], [" Nuclei"]], 12);
})();
</script>
</body>
</html>
